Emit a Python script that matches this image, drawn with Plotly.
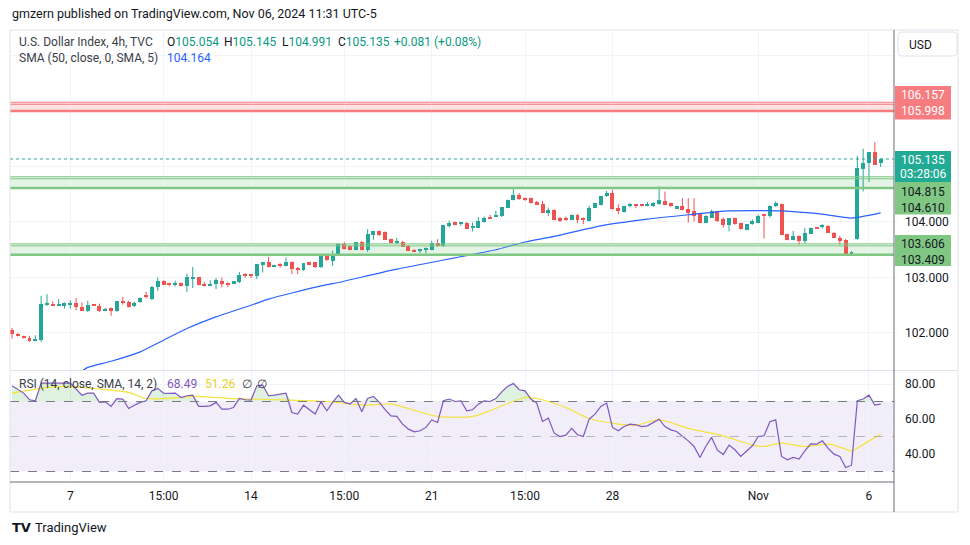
import plotly.graph_objects as go

# ---------------- data ----------------
opens = [
    102.05, 101.99, 101.93, 101.91, 101.86, 101.87, 102.52, 102.53, 102.50, 102.49,
    102.52, 102.54, 102.47, 102.40, 102.51, 102.48, 102.40, 102.45, 102.40, 102.58,
    102.56, 102.48, 102.55, 102.67, 102.62, 102.82, 102.94, 102.88, 102.88, 102.90,
    102.85, 102.99, 103.00, 102.88, 102.86, 102.89, 102.94, 102.89, 102.89, 102.91,
    103.05, 103.05, 103.03, 103.23, 103.28, 103.20, 103.22, 103.21, 103.28, 103.16,
    103.13, 103.27, 103.27, 103.18, 103.39, 103.30, 103.42, 103.60, 103.57, 103.50,
    103.64, 103.50, 103.76, 103.84, 103.82, 103.69, 103.63, 103.64, 103.57, 103.50,
    103.48, 103.50, 103.50, 103.62, 103.57, 103.93, 104.00, 103.97, 103.99, 103.90,
    103.90, 104.00, 104.08, 104.10, 104.10, 104.26, 104.40, 104.49, 104.43, 104.43,
    104.36, 104.32, 104.17, 104.22, 104.08, 104.05, 104.04, 104.13, 104.05, 104.02,
    104.26, 104.31, 104.46, 104.53, 104.26, 104.18, 104.28, 104.31, 104.31, 104.29,
    104.28, 104.32, 104.38, 104.34, 104.25, 104.28, 104.24, 104.19, 104.14, 103.99,
    104.08, 104.19, 104.05, 103.95, 104.07, 103.98, 103.86, 103.96, 103.99, 104.13,
    104.10, 104.28, 104.32, 103.78, 103.68, 103.75, 103.66, 103.79, 103.90, 103.91,
    103.93, 103.81, 103.72, 103.68, 103.42, 103.70, 104.95, 105.06, 105.26, 105.054,
]
highs = [
    102.09, 102.00, 101.95, 101.95, 101.96, 102.67, 102.70, 102.57, 102.61, 102.55,
    102.59, 102.63, 102.55, 102.58, 102.52, 102.53, 102.45, 102.46, 102.58, 102.65,
    102.58, 102.56, 102.64, 102.74, 102.85, 103.00, 102.95, 102.89, 102.94, 102.91,
    103.07, 103.19, 103.01, 102.92, 102.95, 102.99, 103.00, 102.91, 102.93, 103.10,
    103.08, 103.06, 103.24, 103.28, 103.37, 103.23, 103.26, 103.36, 103.29, 103.19,
    103.26, 103.28, 103.28, 103.40, 103.41, 103.48, 103.61, 103.64, 103.58, 103.64,
    103.66, 103.87, 103.84, 103.85, 103.83, 103.70, 103.71, 103.66, 103.58, 103.51,
    103.50, 103.54, 103.66, 103.69, 103.95, 104.02, 104.01, 103.99, 104.00, 103.99,
    104.09, 104.10, 104.13, 104.20, 104.27, 104.40, 104.59, 104.52, 104.44, 104.44,
    104.38, 104.38, 104.26, 104.23, 104.09, 104.10, 104.14, 104.14, 104.08, 104.29,
    104.34, 104.46, 104.56, 104.58, 104.32, 104.29, 104.34, 104.32, 104.32, 104.36,
    104.36, 104.64, 104.55, 104.35, 104.29, 104.43, 104.43, 104.43, 104.15, 104.12,
    104.22, 104.20, 104.08, 104.07, 104.08, 103.99, 103.96, 104.05, 104.13, 104.14,
    104.30, 104.37, 104.33, 103.79, 103.84, 103.76, 103.89, 103.90, 103.91, 103.96,
    103.94, 103.82, 103.75, 103.69, 103.47, 105.19, 105.32, 105.26, 105.44, 105.145,
]
lows = [
    101.90, 101.94, 101.90, 101.84, 101.85, 101.84, 102.49, 102.49, 102.49, 102.44,
    102.44, 102.41, 102.40, 102.38, 102.50, 102.38, 102.39, 102.31, 102.38, 102.51,
    102.46, 102.47, 102.54, 102.62, 102.59, 102.76, 102.87, 102.84, 102.84, 102.84,
    102.74, 102.81, 102.86, 102.84, 102.85, 102.79, 102.82, 102.83, 102.88, 102.90,
    103.00, 102.99, 102.97, 103.09, 103.18, 103.19, 103.18, 103.20, 103.06, 103.06,
    103.12, 103.22, 103.17, 103.17, 103.30, 103.21, 103.41, 103.50, 103.49, 103.49,
    103.49, 103.46, 103.68, 103.75, 103.68, 103.62, 103.60, 103.55, 103.48, 103.46,
    103.44, 103.44, 103.49, 103.55, 103.55, 103.90, 103.94, 103.93, 103.87, 103.83,
    103.89, 103.99, 104.05, 104.09, 104.09, 104.25, 104.39, 104.40, 104.38, 104.33,
    104.31, 104.16, 104.11, 104.03, 104.00, 104.02, 104.03, 103.98, 103.96, 104.01,
    104.25, 104.30, 104.45, 104.22, 104.14, 104.17, 104.26, 104.25, 104.28, 104.28,
    104.27, 104.31, 104.30, 104.27, 104.24, 104.21, 103.99, 104.01, 103.98, 103.98,
    104.07, 104.00, 103.90, 103.83, 103.95, 103.86, 103.85, 103.95, 103.98, 103.70,
    104.08, 104.27, 103.76, 103.67, 103.67, 103.59, 103.62, 103.78, 103.88, 103.88,
    103.81, 103.71, 103.59, 103.40, 103.40, 103.68, 104.55, 104.72, 105.03, 104.991,
]
closes = [
    101.99, 101.94, 101.91, 101.86, 101.89, 102.52, 102.54, 102.49, 102.51, 102.54,
    102.54, 102.46, 102.40, 102.51, 102.50, 102.40, 102.44, 102.40, 102.58, 102.54,
    102.47, 102.54, 102.63, 102.65, 102.83, 102.94, 102.87, 102.87, 102.90, 102.85,
    103.00, 103.00, 102.86, 102.86, 102.89, 102.96, 102.88, 102.88, 102.93, 103.04,
    103.03, 103.03, 103.24, 103.27, 103.19, 103.22, 103.21, 103.27, 103.15, 103.15,
    103.26, 103.23, 103.18, 103.39, 103.31, 103.42, 103.60, 103.52, 103.50, 103.64,
    103.50, 103.78, 103.84, 103.76, 103.68, 103.63, 103.64, 103.55, 103.48, 103.47,
    103.50, 103.51, 103.62, 103.57, 103.95, 103.99, 103.95, 103.98, 103.87, 103.91,
    104.02, 104.07, 104.06, 104.11, 104.27, 104.40, 104.49, 104.41, 104.41, 104.34,
    104.31, 104.17, 104.22, 104.04, 104.01, 104.04, 104.13, 104.04, 104.04, 104.26,
    104.34, 104.46, 104.53, 104.23, 104.20, 104.29, 104.32, 104.29, 104.29, 104.31,
    104.35, 104.40, 104.31, 104.28, 104.28, 104.22, 104.17, 104.11, 103.99, 104.11,
    104.19, 104.01, 103.95, 104.07, 103.96, 103.87, 103.96, 104.01, 104.11, 104.12,
    104.29, 104.34, 103.77, 103.68, 103.75, 103.66, 103.80, 103.89, 103.89, 103.93,
    103.81, 103.71, 103.66, 103.41, 103.46, 104.97, 105.06, 105.26, 105.03, 105.135,
]

sma_idx = [12, 13, 17, 22, 26, 30, 35, 41, 44, 48, 54, 56, 66, 83, 88, 93, 101, 109,
           116, 123, 132, 139, 144, 149]
sma_vals = [101.31, 101.38, 101.49, 101.66, 101.87, 102.08, 102.29, 102.50, 102.61,
            102.72, 102.87, 102.91, 103.15, 103.50, 103.64, 103.74, 103.93, 104.05,
            104.13, 104.20, 104.20, 104.14, 104.07, 104.164]

rsi = [
    79.0, 76.7, 74.8, 71.0, 70.4, 80.5, 80.5, 80.5, 80.9, 80.9,
    80.5, 77.1, 73.6, 74.8, 74.8, 69.5, 69.8, 67.2, 71.7, 71.4,
    66.0, 67.9, 69.5, 70.4, 76.1, 77.5, 74.8, 74.6, 74.8, 72.3,
    73.3, 73.6, 67.2, 67.2, 67.5, 69.5, 65.6, 65.6, 66.6, 71.7,
    71.0, 70.8, 79.0, 79.4, 73.3, 73.6, 74.0, 74.8, 63.7, 62.8,
    67.9, 65.6, 62.8, 69.8, 64.7, 69.5, 73.6, 69.5, 68.5, 71.7,
    64.1, 71.7, 72.9, 69.5, 65.3, 61.8, 61.5, 57.1, 54.2, 52.7,
    53.3, 55.2, 59.5, 58.0, 70.4, 71.4, 70.0, 70.4, 64.7, 65.3,
    68.5, 70.4, 70.0, 71.7, 75.5, 78.6, 80.3, 76.7, 76.1, 71.4,
    69.1, 58.6, 60.5, 51.9, 50.0, 50.8, 54.6, 51.0, 50.0, 59.9,
    62.8, 67.2, 69.1, 55.2, 53.3, 55.7, 57.1, 56.7, 55.7, 56.1,
    58.0, 59.9, 55.7, 53.8, 52.9, 50.4, 47.5, 44.3, 38.0, 44.3,
    49.5, 42.2, 39.7, 45.1, 42.4, 38.6, 41.8, 44.7, 50.0, 50.4,
    58.4, 59.5, 38.6, 36.7, 38.0, 37.1, 41.8, 45.8, 45.6, 47.5,
    43.2, 39.9, 38.6, 32.3, 33.6, 70.4, 71.4, 73.6, 67.9, 68.49,
]
rsi_ma_idx = [0, 5, 9, 15, 20, 23, 29, 31, 38, 46, 54, 60, 65, 68, 73, 79, 82, 88, 90,
              95, 99, 104, 107, 111, 116, 122, 127, 129, 132, 136, 140, 143, 144, 147, 149]
rsi_ma_vals = [74.8, 77.5, 78.6, 77.1, 75.2, 71.7, 72.3, 72.9, 71.7, 71.0, 70.0, 67.9,
               68.5, 66.0, 61.5, 61.5, 64.7, 72.3, 71.7, 66.6, 60.3, 57.1, 56.5, 59.5,
               54.6, 50.4, 45.1, 44.3, 46.2, 44.3, 45.6, 42.8, 41.8, 47.5, 51.26]

zone_hi = [106.157, 104.815, 103.606]
zone_lo = [105.998, 104.610, 103.409]
zone_kind = ["res", "sup", "sup"]

tick_idx = [10, 26, 41, 57, 72, 88, 103, 128, 147]
tick_lbl = ["7", "15:00", "14", "15:00", "21", "15:00", "28", "Nov", "6"]
price_ticks = [102, 103, 104, 105, 106, 107]
price_tick_lbl = ["102.000", "103.000", "104.000", "", "", ""]
rsi_ticks = [40, 60, 80]
rsi_tick_lbl = ["40.00", "60.00", "80.00"]

# ---------------- geometry helpers ----------------
W, H = 970, 545
ML, MR, MT, MB = 10, 12, 30, 33
PW = W - ML - MR
PH = H - MT - MB


def px(x):
    return (x - ML) / PW


def py(y):
    return (H - MB - y) / PH


FONT = "Roboto, 'Noto Sans', sans-serif"
UP, DN = "#26a69a", "#ef5350"
GRID = "#f0f3fa"
n = len(closes)
idx = list(range(n))

fig = go.Figure()

# wicks
for col, cond in ((UP, True), (DN, False)):
    xs, ys = [], []
    for i in idx:
        if (closes[i] >= opens[i]) == cond:
            xs += [i, i, None]
            ys += [lows[i], highs[i], None]
    fig.add_trace(go.Scatter(x=xs, y=ys, mode="lines", line=dict(color=col, width=1),
                             hoverinfo="skip", showlegend=False, xaxis="x", yaxis="y"))

# bodies
base = [min(o, c) for o, c in zip(opens, closes)]
hgt = [max(abs(c - o), 0.02) for o, c in zip(opens, closes)]
cols = [UP if c >= o else DN for o, c in zip(opens, closes)]
fig.add_trace(go.Bar(x=idx, y=hgt, base=base, width=0.68, marker=dict(color=cols, line=dict(width=0)),
                     hoverinfo="skip", showlegend=False, xaxis="x", yaxis="y"))

# SMA 50
fig.add_trace(go.Scatter(x=sma_idx, y=sma_vals, mode="lines", line=dict(color="#2962ff", width=1.2, shape="spline", smoothing=0.6),
                         hoverinfo="skip", showlegend=False, xaxis="x", yaxis="y"))

# RSI overbought fill
fig.add_trace(go.Scatter(x=idx, y=[70] * n, mode="lines", line=dict(width=0, color="rgba(0,0,0,0)"),
                         hoverinfo="skip", showlegend=False, xaxis="x2", yaxis="y2"))
fig.add_trace(go.Scatter(x=idx, y=[max(v, 70) for v in rsi], mode="lines", line=dict(width=0, color="rgba(0,0,0,0)"),
                         fill="tonexty", fillcolor="rgba(76,175,80,0.18)",
                         hoverinfo="skip", showlegend=False, xaxis="x2", yaxis="y2"))
# RSI-based MA
fig.add_trace(go.Scatter(x=rsi_ma_idx, y=rsi_ma_vals, mode="lines",
                         line=dict(color="#f5e33b", width=1.2, shape="spline", smoothing=0.8),
                         hoverinfo="skip", showlegend=False, xaxis="x2", yaxis="y2"))
# RSI
fig.add_trace(go.Scatter(x=idx, y=rsi, mode="lines", line=dict(color="#7e57c2", width=1.2),
                         hoverinfo="skip", showlegend=False, xaxis="x2", yaxis="y2"))

shapes = []
XR = px(894)
# zones
for hi, lo, kind in zip(zone_hi, zone_lo, zone_kind):
    if kind == "res":
        fill, ln = "rgba(247,124,128,0.22)", "#f77c80"
    else:
        fill, ln = "rgba(129,199,132,0.22)", "#81c784"
    shapes.append(dict(type="rect", xref="paper", yref="y", x0=0, x1=XR, y0=lo, y1=hi,
                       fillcolor=fill, line=dict(width=0), layer="below"))
    shapes.append(dict(type="line", xref="paper", yref="y", x0=0, x1=XR, y0=hi, y1=hi,
                       line=dict(color=ln, width=1)))
    shapes.append(dict(type="line", xref="paper", yref="y", x0=0, x1=XR, ysizemode="pixel",
                       yanchor=hi, y0=-2, y1=-2, line=dict(color=ln, width=1)))
    shapes.append(dict(type="line", xref="paper", yref="y", x0=0, x1=XR, y0=lo, y1=lo,
                       line=dict(color=ln, width=2.5)))

# last price dotted line
shapes.append(dict(type="line", xref="paper", yref="y", x0=0, x1=XR, y0=closes[-1], y1=closes[-1],
                   line=dict(color=UP, width=1, dash="dot")))

# RSI band and levels
shapes.append(dict(type="rect", xref="paper", yref="y2", x0=0, x1=XR, y0=30, y1=70,
                   fillcolor="rgba(126,87,194,0.10)", line=dict(width=0), layer="below"))
for lvl, c in ((70, "#787b86"), (50, "#b2b5be"), (30, "#787b86")):
    shapes.append(dict(type="line", xref="paper", yref="y2", x0=0, x1=XR, y0=lvl, y1=lvl,
                       line=dict(color=c, width=1, dash="dash")))

# frame and axis lines
shapes.append(dict(type="rect", xref="paper", yref="paper", x0=px(10), x1=px(958), y0=py(512), y1=py(30),
                   line=dict(color="#e0e3eb", width=1)))
shapes.append(dict(type="line", xref="paper", yref="paper", x0=px(10), x1=px(958), y0=py(370.5), y1=py(370.5),
                   line=dict(color="#e0e3eb", width=1)))
shapes.append(dict(type="line", xref="paper", yref="paper", x0=XR, x1=XR, y0=py(512), y1=py(30),
                   line=dict(color="#6a6d78", width=1)))
shapes.append(dict(type="line", xref="paper", yref="paper", x0=px(10), x1=XR, y0=py(482), y1=py(482),
                   line=dict(color="#6a6d78", width=1)))


def rrect(x0, y0, x1, y1, r):
    X = lambda v: px(v)
    Y = lambda v: py(v)
    return (f"M {X(x0 + r)} {Y(y0)} L {X(x1 - r)} {Y(y0)} Q {X(x1)} {Y(y0)} {X(x1)} {Y(y0 + r)} "
            f"L {X(x1)} {Y(y1 - r)} Q {X(x1)} {Y(y1)} {X(x1 - r)} {Y(y1)} "
            f"L {X(x0 + r)} {Y(y1)} Q {X(x0)} {Y(y1)} {X(x0)} {Y(y1 - r)} "
            f"L {X(x0)} {Y(y0 + r)} Q {X(x0)} {Y(y0)} {X(x0 + r)} {Y(y0)} Z")


# price-axis label boxes
boxes = [(86, 119.5, "#f77c80"), (151, 182, "#22ab94"), (182, 214.5, "#81c784"), (235, 266, "#81c784")]
for y0, y1, c in boxes:
    shapes.append(dict(type="rect", xref="paper", yref="paper", x0=px(895), x1=px(951), y0=py(y1), y1=py(y0),
                       fillcolor=c, line=dict(width=0), layer="above"))
# USD box
shapes.append(dict(type="path", xref="paper", yref="paper", path=rrect(898, 32, 957, 56, 4),
                   fillcolor="white", line=dict(color="#e0e3eb", width=1)))

ann = []


def txt(x, y, s, color="#131722", size=12, anchor="left", family=FONT):
    ann.append(dict(xref="paper", yref="paper", x=px(x), y=py(y), text=s, showarrow=False,
                    xanchor=anchor, yanchor="middle", font=dict(family=family, size=size, color=color)))


txt(10, 14, "gmzern published on TradingView.com, Nov 06, 2024 11:31 UTC-5", size=12.5)
TEAL = "#089981"
txt(17, 42, "U.S. Dollar Index, 4h, TVC", color="#3b3e48", size=12)
txt(165, 42, f"O<span style='color:{TEAL}'>{opens[-1]:.3f}</span>", size=12)
txt(222, 42, f"H<span style='color:{TEAL}'>{highs[-1]:.3f}</span>", size=12)
txt(280, 42, f"L<span style='color:{TEAL}'>{lows[-1]:.3f}</span>", size=12)
txt(336, 42, f"C<span style='color:{TEAL}'>{closes[-1]:.3f}</span>", size=12)
txt(392, 42, "+0.081", color=TEAL, size=12)
txt(432, 42, "(+0.08%)", color=TEAL, size=12)
txt(17, 58, "SMA (50, close, 0, SMA, 5)", color="#3b3e48", size=12)
txt(165, 58, f"{sma_vals[-1]:.3f}", color="#2962ff", size=12)

txt(17, 384, "RSI (14, close, SMA, 14, 2)", color="#3b3e48", size=12)
txt(165, 384, f"{rsi[-1]:.2f}", color="#7e57c2", size=12)
txt(203, 384, f"{rsi_ma_vals[-1]:.2f}", color="#e6d21f", size=12)
txt(240, 384, "∅", color="#3b3e48", size=12)
txt(255, 384, "∅", color="#3b3e48", size=12)

# price axis labels
txt(923, 95, f"{zone_hi[0]:.3f}", color="white", anchor="center")
txt(923, 111.5, f"{zone_lo[0]:.3f}", color="white", anchor="center")
txt(923, 159.5, f"{closes[-1]:.3f}", color="white", anchor="center")
txt(923, 174, "03:28:06", color="white", anchor="center")
txt(923, 191.5, f"{zone_hi[1]:.3f}", color="#131722", anchor="center")
txt(923, 207.5, f"{zone_lo[1]:.3f}", color="#131722", anchor="center")
txt(923, 243.5, f"{zone_hi[2]:.3f}", color="#131722", anchor="center")
txt(923, 259.5, f"{zone_lo[2]:.3f}", color="#131722", anchor="center")
txt(907, 44.5, "USD", color="#131722", size=12)

# logo
txt(10, 527, "<b>TV</b>", color="#131722", size=13, family="'DejaVu Sans', sans-serif")
txt(33, 527, "TradingView", color="#131722", size=13)

XRANGE = [-0.343, 151.29]
fig.update_layout(
    width=W, height=H, margin=dict(l=ML, r=MR, t=MT, b=MB),
    paper_bgcolor="white", plot_bgcolor="white", barmode="overlay", bargap=0,
    showlegend=False, shapes=shapes, annotations=ann,
    font=dict(family=FONT, size=12, color="#131722"),
    xaxis=dict(domain=[0, XR], range=XRANGE, anchor="y", tickmode="array", tickvals=tick_idx,
               showticklabels=False, showgrid=True, gridcolor=GRID, zeroline=False, showline=False, ticks=""),
    xaxis2=dict(domain=[0, XR], range=XRANGE, anchor="y2", tickmode="array", tickvals=tick_idx,
                ticktext=tick_lbl, showgrid=True, gridcolor=GRID, zeroline=False, showline=False, ticks="",
                ticklabelstandoff=5, tickfont=dict(size=12, color="#131722")),
    yaxis=dict(domain=[py(370), 1], range=[101.333, 107.459], anchor="x", side="right",
               tickmode="array", tickvals=price_ticks, ticktext=price_tick_lbl, showgrid=True,
               gridcolor=GRID, zeroline=False, showline=False, ticks="", ticklabelstandoff=10,
               tickfont=dict(size=12, color="#131722")),
    yaxis2=dict(domain=[py(482), py(371)], range=[24.0, 87.43], anchor="x2", side="right",
                tickmode="array", tickvals=rsi_ticks, ticktext=rsi_tick_lbl, showgrid=True,
                gridcolor=GRID, zeroline=False, showline=False, ticks="", ticklabelstandoff=10,
                tickfont=dict(size=12, color="#131722")),
)

fig.write_html("out.html", config={"displayModeBar": False},
               post_script="document.body.style.margin='0px';document.body.style.padding='0px';")
